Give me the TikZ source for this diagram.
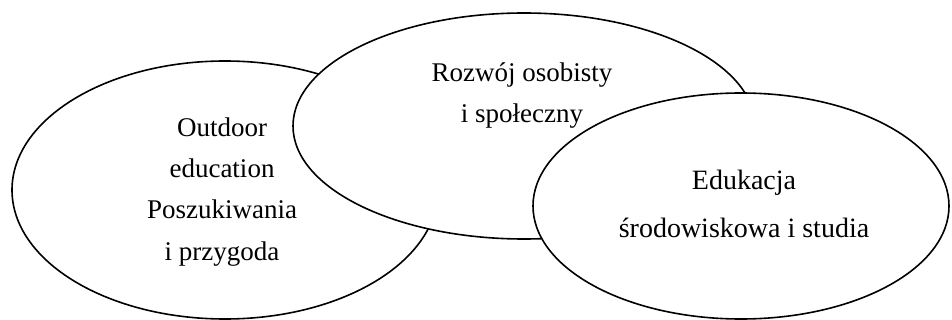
\documentclass[tikz,border=0pt]{standalone}
\usepackage{fontspec}
\setmainfont{Liberation Serif}
\usetikzlibrary{shapes.geometric}
\begin{document}
\begin{tikzpicture}[x=1pt,y=-1pt,
  blob/.style={ellipse,draw=black,line width=1.6pt,fill=white,inner sep=0pt},
  lbl/.style={anchor=base,inner sep=0pt,text=black,font=\fontsize{27}{31}\selectfont},
  lblbig/.style={anchor=base,inner sep=0pt,text=black,font=\fontsize{28}{32}\selectfont}]
\useasboundingbox (0,0) rectangle (952,320);
\node[blob,minimum width=426pt,minimum height=258pt] (left) at (225,190) {};
\node[blob,minimum width=462pt,minimum height=226pt] (mid) at (524,126) {};
\node[blob,minimum width=416pt,minimum height=226pt] (right) at (741,206) {};
\node[lbl] (l1) at (222,137) {Outdoor};
\node[lbl] (l2) at (222,178) {education};
\node[lbl] (l3) at (222,219) {Poszukiwania};
\node[lbl] (l4) at (222,260) {i przygoda};
\node[lbl] (m1) at (522,82) {Rozwój osobisty};
\node[lbl] (m2) at (522,123) {i społeczny};
\node[lblbig] (r1) at (744,190) {Edukacja};
\node[lblbig] (r2) at (744,237) {środowiskowa i studia};
\end{tikzpicture}
\end{document}
